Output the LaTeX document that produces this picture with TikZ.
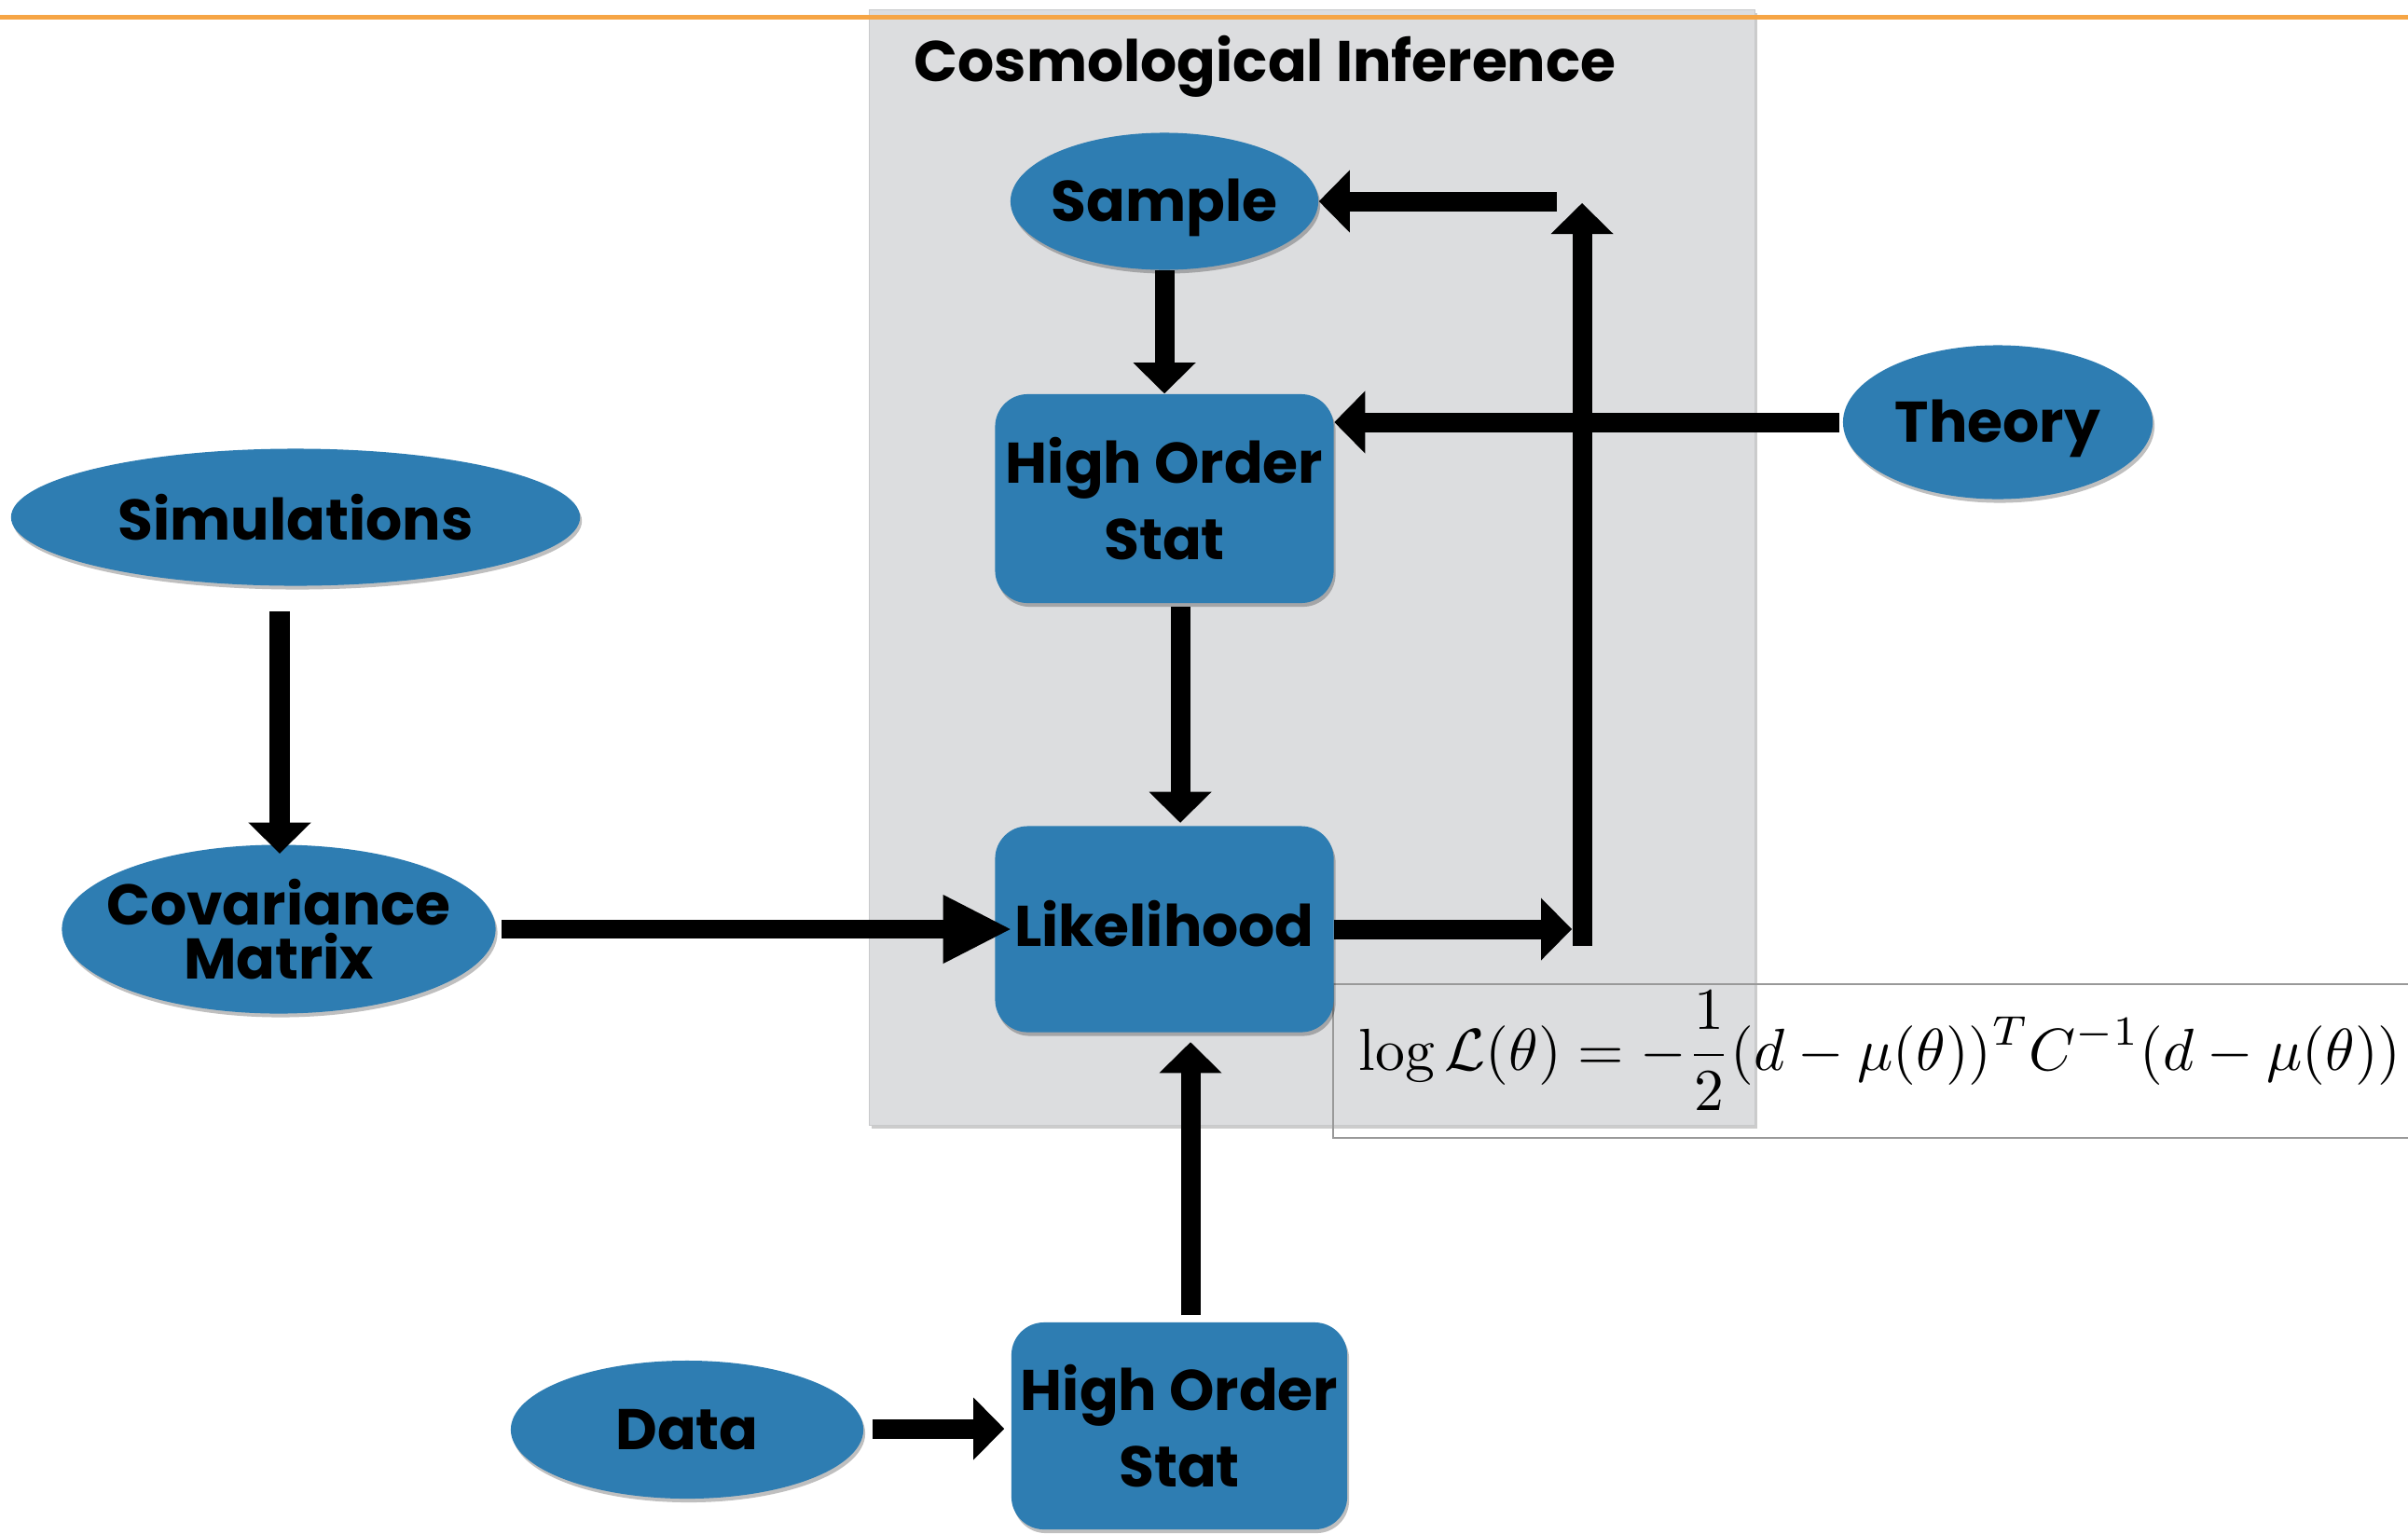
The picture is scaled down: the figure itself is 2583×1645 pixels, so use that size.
\documentclass[tikz,border=0pt]{standalone}
\usepackage{fontspec}
\usepackage{amsmath}
\usetikzlibrary{arrows.meta,shapes.geometric,shadows,calc}
\newfontfamily\boxfont{Poppins}
\definecolor{nodeblue}{HTML}{2E7DB2}
\definecolor{panelgray}{HTML}{DCDDDF}
\definecolor{paneledge}{HTML}{C8C9CB}
\definecolor{rulecolor}{HTML}{F6A545}
\newcommand\slimtext[1]{\makebox[0pt]{#1}}
\newcommand\nudge[2]{\raisebox{#1}[\height][\depth]{#2}}

\begin{document}
\begin{tikzpicture}[x=0.01cm,y=-0.01cm,
  label font/.style={font=\boxfont\bfseries\fontsize{17.5}{23.3}\selectfont},
  softshadow/.style={drop shadow={shadow xshift=0.02cm,shadow yshift=-0.04cm,opacity=0.25,fill=black}},
  blob/.style={ellipse,fill=nodeblue,inner sep=0pt,label font,softshadow},
  card/.style={rectangle,rounded corners=0.35cm,fill=nodeblue,inner sep=0pt,
    minimum width=3.63cm,minimum height=2.22cm,align=center,label font,softshadow},
  link/.style={line width=0.21cm,-{Triangle[length=0.33cm,width=0.67cm,line width=0pt]}},
  biglink/.style={line width=0.2cm,-{Triangle[length=0.72cm,width=0.74cm,line width=0pt]}},
  panel/.style={fill=panelgray,draw=paneledge,line width=0.01cm,
    drop shadow={shadow xshift=0.03cm,shadow yshift=-0.04cm,opacity=0.2,fill=black}}
]
\useasboundingbox (0,0) rectangle (2583,1645);
\clip (0,0) rectangle (2583,1645);

% inference panel and slide rule
\path[panel] (932,10) rectangle (1882,1207);
\fill[rulecolor] (0,16) rectangle (2583,21);
\node[anchor=base west,inner sep=0pt,label font] (title) at (980,87) {Cosmological Inference};

% likelihood formula frame
\draw[black!40,line width=0.015cm] (1430,1056) rectangle (2600,1221);
\node[anchor=base west,inner sep=0pt] (loglik) at (1457,1148)
  {\resizebox{11.17cm}{!}{$\displaystyle \log\mathcal{L}(\theta) = -\frac{1}{2}(d-\mu(\theta))^T C^{-1}(d-\mu(\theta))$}};

% nodes
\node[blob,minimum width=3.30cm,minimum height=1.47cm] (sample) at (1249,216) {\slimtext{\nudge{-0.07cm}{Sample}}};
\node[card,minimum height=2.24cm] (hos1) at (1249,535) {High Order\\Stat};
\node[blob,minimum width=3.32cm,minimum height=1.65cm] (theory) at (2143,453) {\slimtext{\nudge{-0.07cm}{Theory}}};
\node[blob,minimum width=6.10cm,minimum height=1.47cm] (sim) at (317,555) {\slimtext{Simulations}};
\node[blob,minimum width=4.65cm,minimum height=1.81cm,align=center,
  font=\boxfont\bfseries\fontsize{17.5}{16.5}\selectfont] (cov) at (299,997) {\slimtext{Covariance}\\\slimtext{Matrix}};
\node[card,minimum height=2.21cm] (lik) at (1249,997) {\nudge{0.06cm}{Likelihood}};
\node[card,minimum width=3.60cm] (hos2) at (1265,1530) {High Order\\Stat};
\node[blob,minimum width=3.78cm,minimum height=1.48cm] (data) at (737,1534) {\slimtext{Data}};

% feedback loop corners
\coordinate (loop-in) at (1686,997);
\coordinate (loop-bottom) at (1697,1015);
\coordinate (loop-top) at (1697,218);
\coordinate (loop-out) at (1670,216);

% connectors
\draw[link] (sample.south) -- (hos1.north);
\draw[link] ($(hos1.south)+(17,3)$) -- ($(lik.north)+(17,-3)$);
\draw[link] ($(sim.south)+(-17,27)$) -- ($(cov.north)+(1,10)$);
\draw[biglink] ($(cov.east)+(6,0)$) -- ($(lik.west)+(17,0)$);
\draw[link] ($(data.east)+(9,-1)$) -- ($(hos2.west)+(-7,3)$);
\draw[link] ($(hos2.north)+(12,-7)$) -- ($(lik.south)+(28,10)$);
\draw[link] (lik.east) -- (loop-in);
\draw[link] (loop-bottom) -- (loop-top);
\draw[link] (loop-out) -- (sample.east);
\draw[link] ($(theory.west)+(-3,0)$) -- (hos1.east |- theory.west);
\end{tikzpicture}
\end{document}
